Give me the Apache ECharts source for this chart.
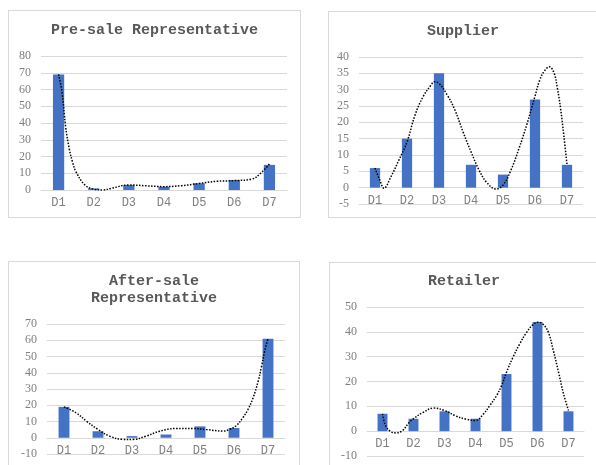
<!DOCTYPE html>
<html>
<head>
<meta charset="utf-8">
<script src="https://cdn.jsdelivr.net/npm/echarts@6/dist/echarts.min.js"></script>
<style>
  body { margin: 0; background: #fff; width: 596px; height: 465px; overflow: hidden; position: relative; }
  .panel { position: absolute; border: 1px solid #d9d9d9; box-sizing: border-box; background: #fff; }
  .panel div.chart { width: 100%; height: 100%; }
</style>
</head>
<body>
<div class="panel" style="left:8px;top:10px;width:293px;height:208px;"><div class="chart" id="preSale"></div></div>
<div class="panel" style="left:328px;top:11px;width:270px;height:207px;"><div class="chart" id="supplier"></div></div>
<div class="panel" style="left:8px;top:261px;width:292px;height:208px;"><div class="chart" id="afterSale"></div></div>
<div class="panel" style="left:329px;top:262px;width:270px;height:207px;"><div class="chart" id="retailer"></div></div>
<script>
// categories
const days = ['D1', 'D2', 'D3', 'D4', 'D5', 'D6', 'D7'];

// bar values
const preSaleValues = [69, 1, 3, 2, 4, 6, 15];
const supplierValues = [6, 15, 35, 7, 4, 27, 7];
const afterSaleValues = [19, 4, 1, 2, 7, 6, 61];
const retailerValues = [7, 5, 8, 5, 23, 44, 8];

// dotted trend lines (x = category position, 1 = D1)
const preSaleTrendX = [1, 1.1, 1.2, 1.3, 1.4, 1.5, 1.75, 2, 2.25, 2.5, 3, 3.5, 4, 4.5, 5, 5.5, 6, 6.5, 6.75, 7];
const preSaleTrendY = [69, 58, 38, 25, 16.5, 10.7, 3, 0.5, 0, 1, 3, 2.5, 2, 2.6, 3.9, 5.2, 5.6, 6.5, 10, 15.5];

const supplierTrendX = [1, 1.15, 1.28, 1.5, 1.75, 2, 2.25, 2.5, 2.75, 2.85, 3, 3.25, 3.5, 3.75, 4, 4.25, 4.5, 4.78, 5, 5.25, 5.5, 5.75, 6, 6.15, 6.3, 6.45, 6.6, 6.7, 6.8, 6.9, 7];
const supplierTrendY = [6, 2.3, -0.2, 3.4, 8.5, 14, 22.2, 27.8, 31.4, 32.4, 31.9, 28.5, 23.7, 17.1, 11, 5.4, 1.5, -0.4, 0.8, 5.4, 12, 19.5, 28, 33, 35.8, 37, 35, 30.4, 24.2, 16, 7];

const afterSaleTrendX = [1, 1.36, 1.66, 2, 2.34, 2.74, 3.03, 3.42, 3.81, 4.3, 4.8, 5.2, 5.68, 5.87, 6.07, 6.26, 6.41, 6.56, 6.71, 6.81, 6.9, 7];
const afterSaleTrendY = [19, 15.3, 10.2, 5.1, 1, -1, -1, 1, 4, 5.7, 5.7, 5, 4.1, 5.1, 7.5, 12.3, 17.4, 24.5, 34.7, 43.9, 53.1, 61];

const retailerTrendX = [1, 1.1, 1.27, 1.43, 1.64, 1.86, 2, 2.3, 2.65, 3, 3.35, 3.7, 4, 4.25, 4.46, 4.68, 4.84, 5, 5.21, 5.43, 5.65, 5.86, 6.03, 6.19, 6.35, 6.51, 6.68, 6.84, 7];
const retailerTrendY = [7, 2.2, -0.2, -0.7, 0.2, 3.5, 5, 7.5, 9.3, 8.3, 6.2, 4.8, 4.3, 6.8, 10.3, 14.3, 18.3, 23.7, 29.8, 35.2, 39.8, 42.9, 43.9, 42.9, 39.8, 32.5, 23.7, 15, 8.3];

function drawPanel(id, title, titleTop, values, trendX, trendY, yMin, yMax, yStep, rect) {
  let myChart = echarts.init(document.getElementById(id));
  // bars live in grid 0, the trend line in an identical hidden grid 1 on top
  let grid = Object.assign({ outerBoundsMode: 'none' }, rect);
  // category axis sits on the zero line (labels just under it, like excel)
  let zeroLift = rect.height * (0 - yMin) / (yMax - yMin);
  myChart.setOption({
    animation: false,
    title: {
      text: title,
      left: 'center',
      top: titleTop,
      textStyle: {
        fontFamily: 'Liberation Mono',
        fontWeight: 'bold',
        fontSize: 15,
        lineHeight: 17,
        color: '#595959'
      }
    },
    grid: [grid, Object.assign({}, grid)],
    xAxis: [
      {
        type: 'category',
        gridIndex: 0,
        data: days,
        offset: -zeroLift,
        axisTick: { show: false },
        axisLine: { onZero: false, lineStyle: { color: '#d9d9d9' } },
        axisLabel: { color: '#7f7f7f', fontFamily: 'Liberation Mono', fontSize: 12, margin: 7 }
      },
      {
        type: 'value',
        gridIndex: 1,
        min: 0.5,
        max: 7.5,
        show: false
      }
    ],
    yAxis: [
      {
        type: 'value',
        gridIndex: 0,
        min: yMin,
        max: yMax,
        interval: yStep,
        axisLine: { show: false },
        axisTick: { show: false },
        splitLine: { lineStyle: { color: '#d9d9d9' } },
        axisLabel: { color: '#7f7f7f', fontFamily: 'Liberation Serif', fontSize: 12, margin: 10 }
      },
      {
        type: 'value',
        gridIndex: 1,
        min: yMin,
        max: yMax,
        show: false
      }
    ],
    series: [
      {
        type: 'bar',
        data: values,
        barWidth: '32%',
        itemStyle: { color: '#4472c4' }
      },
      {
        type: 'line',
        xAxisIndex: 1,
        yAxisIndex: 1,
        data: trendX.map((x, i) => [x, trendY[i]]),
        smooth: 0.4,
        symbol: 'none',
        z: 5,
        lineStyle: { color: '#000', width: 1.5, type: [1.5, 1.5] }
      }
    ]
  });
}

drawPanel('preSale', 'Pre-sale Representative', 6, preSaleValues, preSaleTrendX, preSaleTrendY, 0, 80, 10,
  { left: 32, top: 45, width: 246, height: 134 });
drawPanel('supplier', 'Supplier', 6, supplierValues, supplierTrendX, supplierTrendY, -5, 40, 5,
  { left: 30, top: 45, width: 224, height: 147 });
drawPanel('afterSale', 'After-sale\nRepresentative', 6, afterSaleValues, afterSaleTrendX, afterSaleTrendY, -10, 70, 10,
  { left: 38, top: 62, width: 238, height: 130 });
drawPanel('retailer', 'Retailer', 5, retailerValues, retailerTrendX, retailerTrendY, -10, 50, 10,
  { left: 37, top: 44, width: 217, height: 149 });
</script>
</body>
</html>
